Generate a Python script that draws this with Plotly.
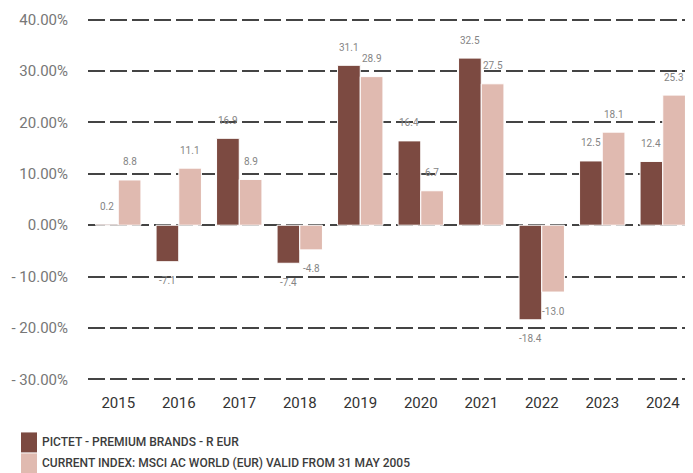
import plotly.graph_objects as go

years = ["2015", "2016", "2017", "2018", "2019", "2020", "2021", "2022", "2023", "2024"]
fund = [0.2, -7.1, 16.9, -7.4, 31.1, 16.4, 32.5, -18.4, 12.5, 12.4]
index = [8.8, 11.1, 8.9, -4.8, 28.9, 6.7, 27.5, -13.0, 18.1, 25.3]
series_names = ["PICTET - PREMIUM BRANDS - R EUR",
                "CURRENT INDEX: MSCI AC WORLD (EUR) VALID FROM 31 MAY 2005"]
colors = ["#7C4A41", "#E0BAB0"]
ytick_vals = [40, 30, 20, 10, 0, -10, -20, -30]
ytick_text = ["40.00%", "30.00%", "20.00%", "10.00%", "0.00%",
              "- 10.00%", "- 20.00%", "- 30.00%"]

FONT = "Roboto, sans-serif"

OFF = 8  # page body margin offset
W, H = 693 - OFF, 473 - OFF
ML, MR, MT = 80, 0, 10
MB = H - 373.5
PW, PH = W - ML - MR, H - MT - MB

fig = go.Figure()
for name, vals, col in zip(series_names, [fund, index], colors):
    fig.add_trace(go.Bar(x=years, y=vals, name=name, marker_color=col,
                         marker_line_color="white", marker_line_width=1,
                         showlegend=False))

annos = []
for vals, xs in [(fund, -11.5), (index, 11.5)]:
    for i, v in enumerate(vals):
        annos.append(dict(x=i, y=v, xshift=xs, yshift=18 if v >= 0 else -19,
                          text=f"{v:.1f}", showarrow=False,
                          font=dict(family=FONT, size=10, color="#858585")))

def px_x(p):
    return (p - OFF - ML) / PW

def px_y(p):
    return (H - MB - (p - OFF)) / PH

shapes = []
for i, (name, col) in enumerate(zip(series_names, colors)):
    y0 = 433 + i * 21
    shapes.append(dict(type="rect", xref="paper", yref="paper",
                       x0=px_x(21), x1=px_x(37), y0=px_y(y0), y1=px_y(y0 + 20),
                       fillcolor=col, line_width=0))
    annos.append(dict(xref="paper", yref="paper", x=px_x(40), y=px_y(y0 + 10),
                      xanchor="left", yanchor="middle", text=name, showarrow=False,
                      font=dict(family=FONT, size=12, weight=500, color="#3c3c3c")))

fig.update_layout(
    width=W, height=H, margin=dict(l=ML, r=MR, t=MT, b=MB),
    paper_bgcolor="white", plot_bgcolor="white",
    barmode="group", bargap=0.25, bargroupgap=0,
    annotations=annos, shapes=shapes, showlegend=False,
    xaxis=dict(type="category", range=[-0.5, len(years) - 0.5],
               showgrid=False, showline=False,
               ticks="outside", ticklen=8, tickcolor="rgba(0,0,0,0)",
               tickfont=dict(family=FONT, size=15, color="#333333")),
    yaxis=dict(range=[-30.3, 40.3], tickvals=ytick_vals, ticktext=ytick_text,
               showgrid=True, gridcolor="#444444", gridwidth=2, griddash="17px,5px",
               zeroline=False, showline=False,
               ticks="outside", ticklen=16, tickcolor="rgba(0,0,0,0)",
               tickfont=dict(family=FONT, size=15, color="#777777")),
)

fig.write_html("out.html")
